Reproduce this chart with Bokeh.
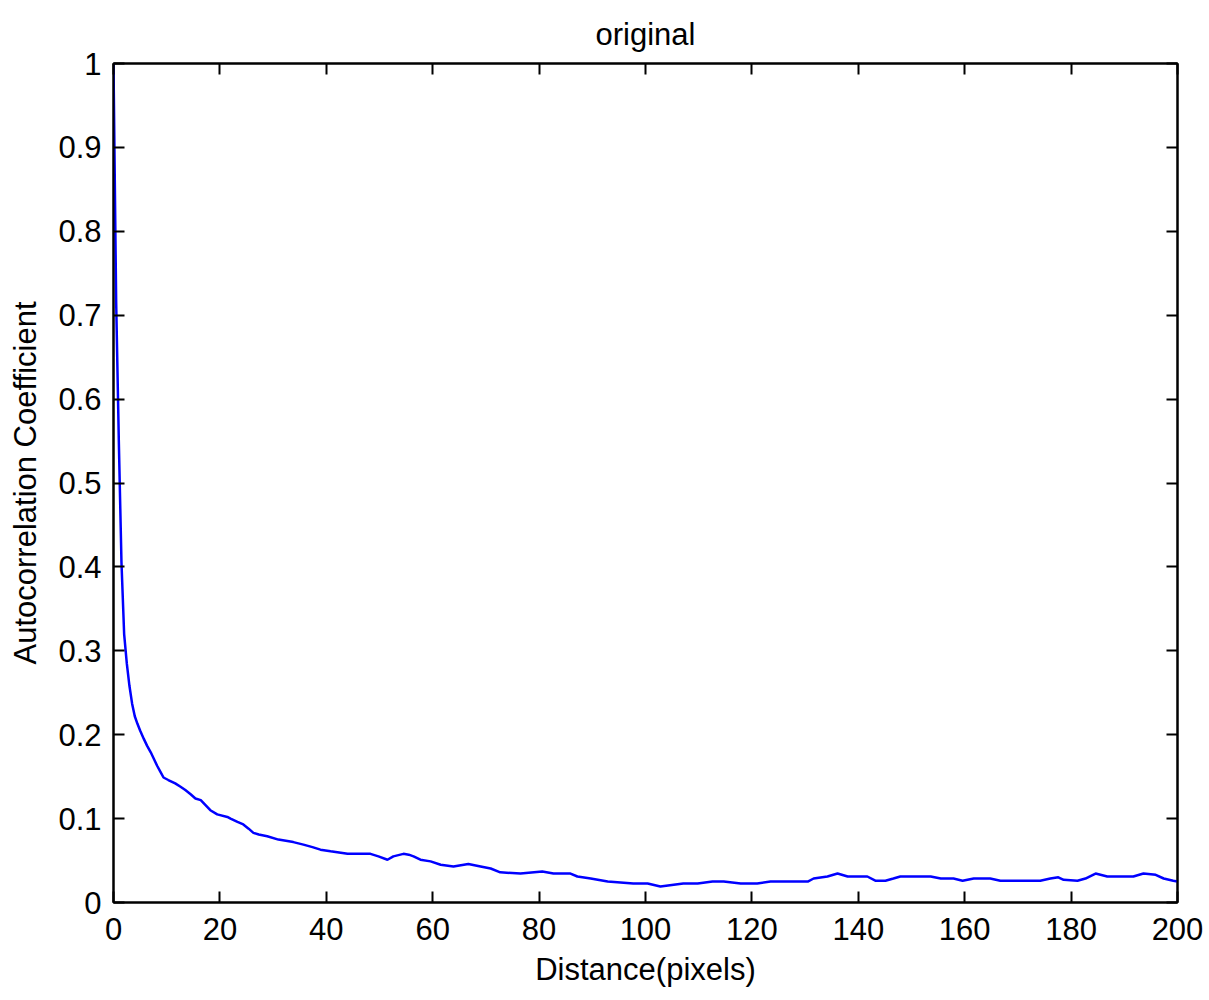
from bokeh.plotting import figure
from bokeh.models import LinearAxis, FixedTicker, CustomJSTickFormatter, Range1d
from bokeh.embed import file_html
from bokeh.resources import INLINE

# ---- data ----
distance = [0, 0.5, 1.0, 1.5, 2.0, 2.5, 3.0, 3.5, 4.0, 4.5, 5.0, 5.7, 6.3, 7.0, 7.6,
            8.2, 8.8, 9.4, 10.3, 11.6, 12.6, 13.5, 14.5, 15.4, 16.4, 17.3, 18.2, 19.5,
            21.4, 22.0, 23.3, 24.4, 25.4, 26.3, 27.3, 28.9, 31.0, 33.8, 35.7, 37.4,
            38.9, 40.8, 44.0, 48.3, 49.8, 51.5, 52.6, 54.5, 55.5, 56.4, 57.7, 59.6,
            61.5, 63.9, 66.7, 69.0, 70.9, 72.7, 76.5, 80.6, 82.7, 85.9, 87.2, 89.7,
            92.9, 97.7, 100.4, 102.8, 107.1, 109.8, 112.6, 114.7, 117.9, 121.0, 123.5,
            130.5, 131.6, 134.2, 136.1, 138.0, 141.7, 143.2, 145.1, 146.6, 147.9,
            153.6, 155.5, 157.9, 159.6, 161.7, 164.8, 166.7, 174.2, 176.1, 177.6,
            178.6, 181.2, 182.7, 184.6, 186.8, 191.7, 193.6, 195.9, 197.4, 199.2, 200.0]
autocorr = [1.0, 0.716, 0.55, 0.405, 0.32, 0.285, 0.258, 0.237, 0.222, 0.213, 0.205,
            0.195, 0.187, 0.179, 0.171, 0.163, 0.156, 0.149, 0.146, 0.142, 0.138, 0.134,
            0.129, 0.124, 0.122, 0.116, 0.110, 0.105, 0.102, 0.100, 0.096, 0.093, 0.088,
            0.083, 0.081, 0.079, 0.075, 0.072, 0.069, 0.066, 0.063, 0.061, 0.058, 0.058,
            0.055, 0.051, 0.055, 0.058, 0.057, 0.055, 0.051, 0.049, 0.045, 0.043, 0.046,
            0.043, 0.0405, 0.036, 0.0345, 0.037, 0.0345, 0.0345, 0.031, 0.0285, 0.025,
            0.0226, 0.0226, 0.019, 0.0226, 0.0226, 0.025, 0.025, 0.0226, 0.0226, 0.025,
            0.025, 0.0286, 0.031, 0.0345, 0.031, 0.031, 0.026, 0.026, 0.0286, 0.031,
            0.031, 0.0286, 0.0286, 0.026, 0.0286, 0.0286, 0.026, 0.026, 0.0286, 0.030,
            0.027, 0.026, 0.0286, 0.0345, 0.031, 0.031, 0.0345, 0.033, 0.0286, 0.026, 0.025]

x_ticks = [0, 20, 40, 60, 80, 100, 120, 140, 160, 180, 200]
y_ticks = [0, 0.1, 0.2, 0.3, 0.4, 0.5, 0.6, 0.7, 0.8, 0.9, 1]
y_tick_labels = ["0", "0.1", "0.2", "0.3", "0.4", "0.5", "0.6", "0.7", "0.8", "0.9", "1"]

title_text = "original"
x_label = "Distance(pixels)"
y_label = "Autocorrelation Coefficient"

FONT = "Liberation Sans"
FS = "31px"

p = figure(width=1209, height=1000,
           x_range=Range1d(0, 200), y_range=Range1d(0, 1),
           output_backend="svg", toolbar_location=None,
           min_border_left=113, min_border_right=32,
           min_border_top=63, min_border_bottom=98,
           x_axis_label=x_label, y_axis_label=y_label)

p.title.text = title_text
p.title.align = "center"
p.title.text_font = FONT
p.title.text_font_size = FS
p.title.text_font_style = "normal"
p.title.text_color = "black"
p.title.standoff = 24

p.line(distance, autocorr, line_color="#0000ff", line_width=2.5)

p.xgrid.visible = False
p.ygrid.visible = False
p.outline_line_color = "black"
p.outline_line_width = 2
p.background_fill_color = "white"
p.border_fill_color = "white"

def style_axis(ax, ticks):
    ax.ticker = FixedTicker(ticks=ticks)
    ax.minor_tick_line_color = None
    ax.major_tick_in = 11
    ax.major_tick_out = 0
    ax.major_tick_line_width = 2
    ax.major_tick_line_color = "black"
    ax.axis_line_width = 2
    ax.axis_line_color = "black"
    ax.major_label_text_font = FONT
    ax.major_label_text_font_size = FS
    ax.major_label_text_color = "black"
    ax.axis_label_text_font = FONT
    ax.axis_label_text_font_size = FS
    ax.axis_label_text_font_style = "normal"
    ax.axis_label_text_color = "black"

xa = p.xaxis[0]
style_axis(xa, x_ticks)
xa.major_label_standoff = 15
xa.axis_label_standoff = 9

ya = p.yaxis[0]
style_axis(ya, y_ticks)
ya.major_label_overrides = {t: l for t, l in zip(y_ticks, y_tick_labels)}
ya.major_label_standoff = 12
ya.axis_label_standoff = 12

# box ticks on top and right (no labels)
top = LinearAxis(formatter=CustomJSTickFormatter(code="return ''"))
style_axis(top, x_ticks)
top.major_label_text_font_size = "0px"
top.major_label_standoff = 0
p.add_layout(top, "above")

right = LinearAxis(formatter=CustomJSTickFormatter(code="return ''"))
style_axis(right, y_ticks)
right.major_label_text_font_size = "0px"
right.major_label_standoff = 0
p.add_layout(right, "right")

open("out.html", "w").write(file_html(p, INLINE))
